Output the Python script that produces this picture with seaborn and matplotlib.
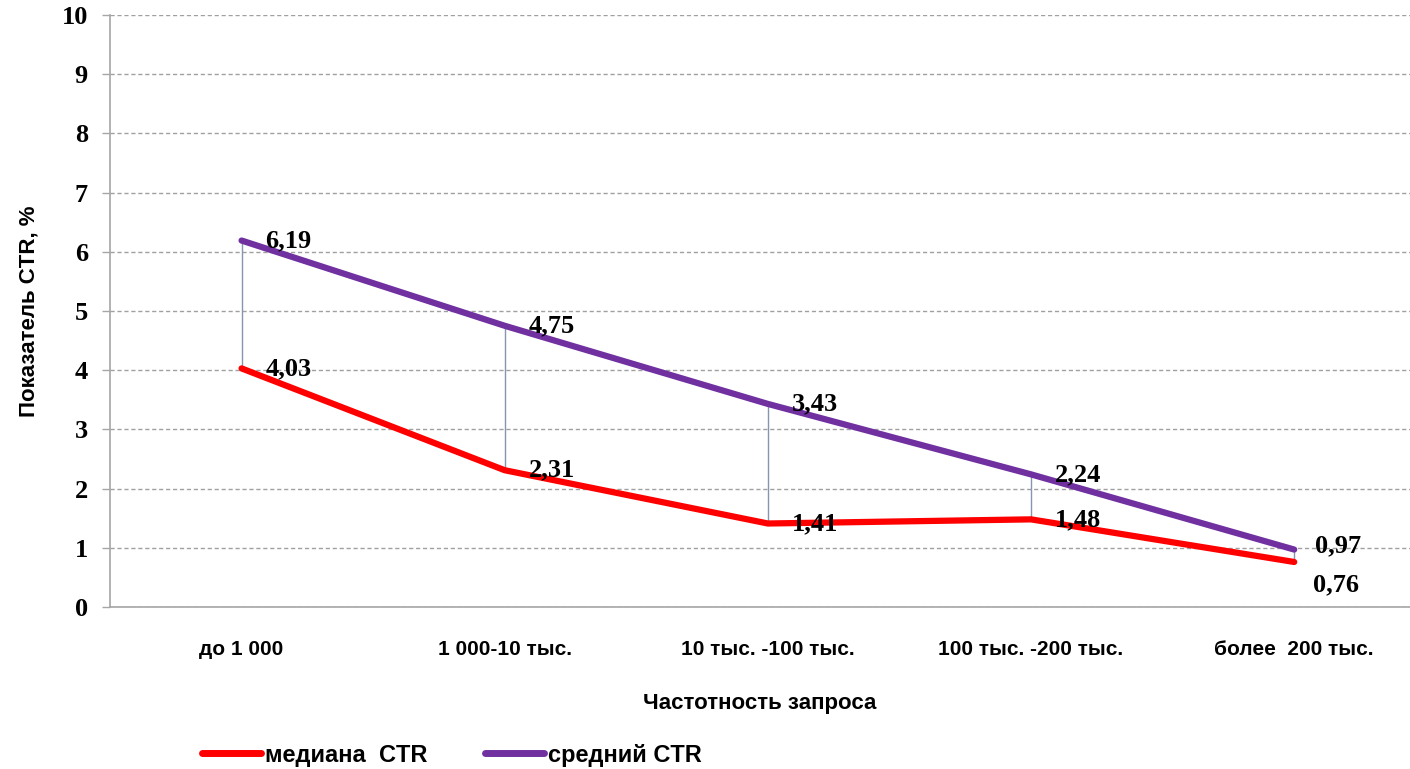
import matplotlib
matplotlib.use("Agg")
import pandas as pd
import seaborn as sns
import matplotlib.pyplot as plt
from matplotlib.lines import Line2D

categories = ["до 1 000", "1 000-10 тыс.", "10 тыс. -100 тыс.", "100 тыс. -200 тыс.", "более  200 тыс."]
median_ctr = [4.03, 2.31, 1.41, 1.48, 0.76]
mean_ctr = [6.19, 4.75, 3.43, 2.24, 0.97]
y_ticks = list(range(0, 11))

df = pd.DataFrame({
    "cat": list(range(len(categories))) * 2,
    "ctr": median_ctr + mean_ctr,
    "series": ["медиана  CTR"] * 5 + ["средний CTR"] * 5,
})
palette = {"медиана  CTR": "#ff0000", "средний CTR": "#7030a0"}

sns.set_style("white")
plt.rcParams["font.family"] = ["Liberation Sans", "DejaVu Sans"]
plt.rcParams["text.color"] = "black"
plt.rcParams["axes.labelcolor"] = "black"
plt.rcParams["xtick.color"] = "black"
plt.rcParams["ytick.color"] = "black"

fig = plt.figure(figsize=(14.1, 7.69), dpi=100)
ax = fig.add_axes([0.078, 0.2107, 0.922, 0.7698])

# hi-lo lines
ax.vlines(range(len(categories)), median_ctr, mean_ctr, color="#8496b0", lw=1, zorder=2)

sns.lineplot(data=df, x="cat", y="ctr", hue="series", palette=palette, lw=4.5,
             legend=False, ax=ax, zorder=3, solid_capstyle="round")

lab_font = dict(family=["Liberation Serif", "DejaVu Serif"], fontweight="bold", fontsize=19)
for i, (m, s) in enumerate(zip(median_ctr, mean_ctr)):
    fm = f"{m:.2f}".replace(".", ",")
    fs = f"{s:.2f}".replace(".", ",")
    if i == len(categories) - 1:
        ax.text(i + 0.08, s + 0.06, fs, ha="left", va="center", **lab_font)
        ax.text(i + 0.07, m - 0.38, fm, ha="left", va="center", **lab_font)
    else:
        ax.text(i + 0.09, s, fs, ha="left", va="center", **lab_font)
        ax.text(i + 0.09, m, fm, ha="left", va="center", **lab_font)

ax.set_xlim(-0.5, 4.44)
ax.set_ylim(0, 10)
ax.set_yticks(y_ticks)
ax.set_yticklabels([str(t) for t in y_ticks], family=["Liberation Serif", "DejaVu Serif"],
                   fontweight="bold", fontsize=19)
ax.set_xticks(range(len(categories)))
ax.set_xticklabels(categories, fontweight="bold", fontsize=15)
ax.tick_params(axis="x", length=0, pad=24)
ax.tick_params(axis="y", length=6, width=1, color="#a6a6a6", direction="out", pad=10, left=True)
ax.grid(axis="y", color="#a0a0a0", ls=(0, (3, 2)), lw=1)
ax.grid(axis="x", visible=False)
for sp in ["top", "right"]:
    ax.spines[sp].set_visible(False)
for sp in ["left", "bottom"]:
    ax.spines[sp].set_color("#a6a6a6")
    ax.spines[sp].set_linewidth(1.2)

ax.set_xlabel("Частотность запроса", fontweight="bold", fontsize=16, labelpad=24)
ax.set_ylabel("Показатель CTR, %", fontweight="bold", fontsize=16, labelpad=16)

handles = [Line2D([], [], color=palette[k], lw=5) for k in palette]
fig.legend(handles, list(palette.keys()), loc="center left", bbox_to_anchor=(0.128, 0.018),
           ncol=2, frameon=False, handlelength=2.5, handletextpad=0.2, columnspacing=2.4,
           prop={"weight": "bold", "size": 17})

fig.savefig("out.png", dpi=100)
